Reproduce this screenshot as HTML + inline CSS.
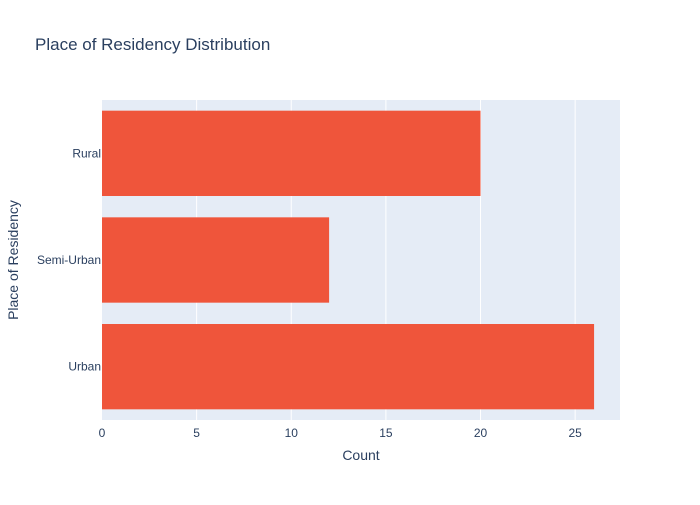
<!DOCTYPE html>
<html><head><meta charset="utf-8"><style>
body{margin:0;background:#fff;font-family:"Liberation Sans",Arial,sans-serif}
svg text{font-family:"Liberation Sans",Arial,sans-serif}
</style></head><body>
<svg id="chart" width="700" height="500">
<rect width="700" height="500" fill="#fff"/>
<text x="35" y="50" font-size="17" fill="#2a3f5f">Place of Residency Distribution</text>
<rect x="102" y="100" width="518" height="320" fill="#e5ecf6"/>
<g id="grid"></g><g id="bars"></g><g id="xticks"></g><g id="yticks"></g>
<text x="361" y="460" font-size="14" fill="#2a3f5f" text-anchor="middle">Count</text>
<text transform="translate(18,260) rotate(-90)" font-size="14" fill="#2a3f5f" text-anchor="middle">Place of Residency</text>
</svg>
<script>
const categories=["Rural","Semi-Urban","Urban"];
const counts=[20,12,26];
const xTicks=[0,5,10,15,20,25];
const NS="http://www.w3.org/2000/svg";
const L=102,R=620,T=100,B=420,xMax=27.37;
const x=v=>L+v/xMax*(R-L);
const band=(B-T)/categories.length;
const yc=i=>T+band*(i+0.5);
function mk(tag,attrs,parent){const e=document.createElementNS(NS,tag);for(const k in attrs)e.setAttribute(k,attrs[k]);document.getElementById(parent).appendChild(e);return e;}
xTicks.forEach(t=>{
 if(t>0){const g=mk('line',{x1:x(t),x2:x(t),y1:T,y2:B,stroke:'#fff','stroke-width':1},'grid');
 
 }
 const tx=mk('text',{x:x(t),y:B+17,'font-size':12,fill:'#2a3f5f','text-anchor':'middle'},'xticks');
 tx.textContent=t;
 
 
});
categories.forEach((c,i)=>{
 const h=band*0.8;
 const r=mk('rect',{x:x(0),y:yc(i)-h/2,width:x(counts[i])-x(0),height:h,fill:'#ef553b'},'bars');
 
 
 const tx=mk('text',{x:L-1,y:yc(i)+4,'font-size':12,fill:'#2a3f5f','text-anchor':'end'},'yticks');
 tx.textContent=c;
 
 
});
</script>
</body></html>
